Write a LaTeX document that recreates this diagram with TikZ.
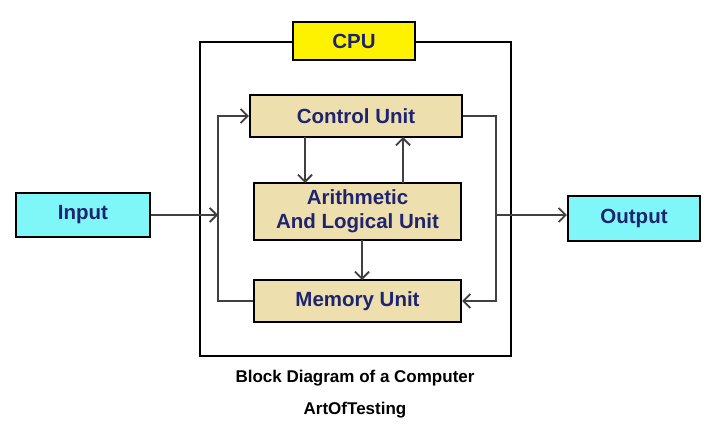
\documentclass[tikz,border=0pt]{standalone}
\usepackage{fontspec}
\setmainfont{Liberation Sans}
\usetikzlibrary{arrows.meta}
\definecolor{navy}{HTML}{1F2470}
\definecolor{tan}{HTML}{EEDFAE}
\definecolor{cy}{HTML}{7FF6F8}
\definecolor{yl}{HTML}{FFF200}
\begin{document}
\begin{tikzpicture}[x=1pt,y=-1pt,
 blk/.style={draw=black,line width=2.2pt,fill=tan,inner sep=0,font=\fontsize{20.5}{24}\selectfont\bfseries,text=navy,align=center},
 io/.style={blk,fill=cy},
 con/.style={draw=black!75,line width=1.8pt},
 arr/.style={con,-{Straight Barb[length=7pt,width=14pt,line width=1.8pt]}}]
\useasboundingbox[fill=white] (0,0) rectangle (720,430);
\node[draw=black,line width=2.4pt,minimum width=311pt,minimum height=314pt] (cpu) at (355.5,199) {};
\node[blk,fill=yl,minimum width=122pt,minimum height=38pt] (cpul) at (354,41) {CPU};
\node[blk,minimum width=212pt,minimum height=42pt] (cu) at (356,116) {Control Unit};
\node[blk,minimum width=207pt,minimum height=57pt] (alu) at (357.5,211.5) {Arithmetic\\And Logical Unit};
\node[blk,minimum width=207pt,minimum height=42pt] (mu) at (357.5,301) {Memory Unit};
\node[io,minimum width=134pt,minimum height=44pt] (in) at (83,215) {Input};
\node[io,minimum width=132pt,minimum height=45pt] (out) at (634,218.5) {Output};
\coordinate (L) at (218,215);
\coordinate (R) at (496,215);
\draw[arr] (in.east |- L) -- (L);
\draw[arr] (mu.west) -- (218,301) -- (218,116) -- (cu.west);
\draw[arr] (cu.east) -- (496,116) -- (496,301) -- (mu.east);
\draw[arr] (R) -- (out.west |- R);
\draw[arr] (305,137) -- (305,183);
\draw[arr] (403,183) -- (403,137);
\draw[arr] (362,240) -- (362,280);
\node[font=\fontsize{17}{20}\selectfont\bfseries] (cap) at (355,378) {Block Diagram of a Computer};
\node[font=\fontsize{17}{20}\selectfont\bfseries] (aot) at (355,410) {ArtOfTesting};
\end{tikzpicture}
\end{document}
